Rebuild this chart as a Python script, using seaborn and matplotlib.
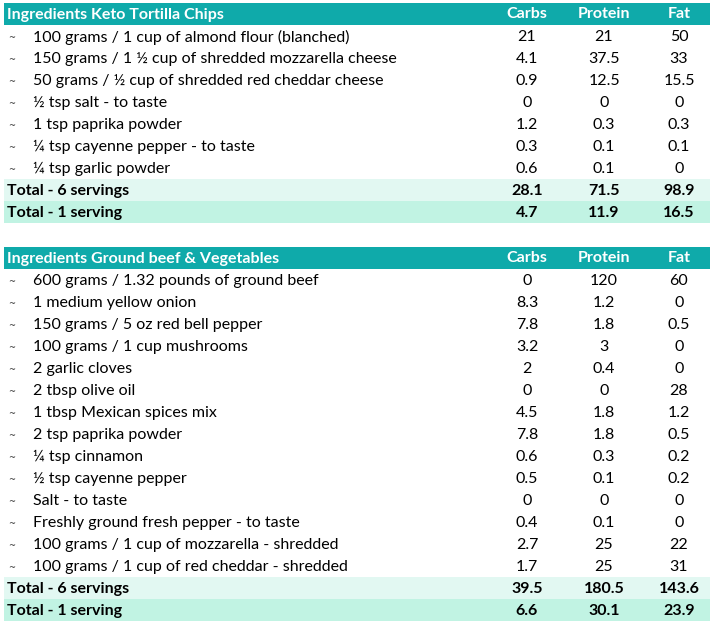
import matplotlib
matplotlib.use("Agg")
import matplotlib.pyplot as plt
import seaborn as sns

# ── data ─────────────────────────────────────────────────────────────────────
COLS = ["Carbs", "Protein", "Fat"]

t1_title = "Ingredients Keto Tortilla Chips"
t1_items = ["100 grams / 1 cup of almond flour (blanched)",
            "150 grams / 1 ½ cup of shredded mozzarella cheese",
            "50 grams / ½ cup of shredded red cheddar cheese",
            "½ tsp salt - to taste",
            "1 tsp paprika powder",
            "¼ tsp cayenne pepper - to taste",
            "¼ tsp garlic powder"]
t1_carbs   = [21, 4.1, 0.9, 0, 1.2, 0.3, 0.6]
t1_protein = [21, 37.5, 12.5, 0, 0.3, 0.1, 0.1]
t1_fat     = [50, 33, 15.5, 0, 0.3, 0.1, 0]
t1_total6  = [28.1, 71.5, 98.9]
t1_total1  = [4.7, 11.9, 16.5]

t2_title = "Ingredients Ground beef & Vegetables"
t2_items = ["600 grams / 1.32 pounds of ground beef",
            "1 medium yellow onion",
            "150 grams / 5 oz red bell pepper",
            "100 grams / 1 cup mushrooms",
            "2 garlic cloves",
            "2 tbsp olive oil",
            "1 tbsp Mexican spices mix",
            "2 tsp paprika powder",
            "¼ tsp cinnamon",
            "½ tsp cayenne pepper",
            "Salt - to taste",
            "Freshly ground fresh pepper - to taste",
            "100 grams / 1 cup of mozzarella - shredded",
            "100 grams / 1 cup of red cheddar - shredded"]
t2_carbs   = [0, 8.3, 7.8, 3.2, 2, 0, 4.5, 7.8, 0.6, 0.5, 0, 0.4, 2.7, 1.7]
t2_protein = [120, 1.2, 1.8, 3, 0.4, 0, 1.8, 1.8, 0.3, 0.1, 0, 0.1, 25, 25]
t2_fat     = [60, 0, 0.5, 0, 0, 28, 1.2, 0.5, 0.2, 0.2, 0, 0, 22, 31]
t2_total6  = [39.5, 180.5, 143.6]
t2_total1  = [6.6, 30.1, 23.9]

# ── style ────────────────────────────────────────────────────────────────────
TEAL   = "#0FAAAA"
TOT6   = "#E2F8F2"
TOT1   = "#C1F3E3"
sns.set_theme(style="white")
plt.rcParams["font.family"] = ["Lato", "DejaVu Sans"]
FS = 11.5
FSB = 11.5

ROW_H = 22
X0, X1 = 4, 710
COL_X = [527, 604, 679]

fig = plt.figure(figsize=(7.12, 6.26), dpi=100)
ax = fig.add_axes([0, 0, 1, 1])
ax.set_xlim(0, 712)
ax.set_ylim(626, 0)
ax.axis("off")


def draw_table(top, title, items, carbs, protein, fat, tot6, tot1):
    # header band
    ax.barh(top + ROW_H / 2, X1 - X0, height=ROW_H, left=X0,
            color=TEAL, linewidth=0)
    yc = top + ROW_H / 2 + 0.5
    ax.text(X0 + 3, yc, title, color="white", fontsize=FSB,
            fontweight="bold", va="center", ha="left")
    for cx, c in zip(COL_X, COLS):
        ax.text(cx, yc, c, color="white", fontsize=FSB, fontweight="bold",
                va="center", ha="center")
    # ingredient rows
    for i, name in enumerate(items):
        yc = top + ROW_H * (i + 1) + ROW_H / 2 + 1
        ax.text(12, yc + 1, "~", fontsize=6, va="center", ha="center",
                color="#333333", family="DejaVu Sans")
        ax.text(33, yc, name, fontsize=FS, va="center", ha="left",
                color="black")
        for cx, v in zip(COL_X, (carbs[i], protein[i], fat[i])):
            ax.text(cx, yc, f"{v:g}", fontsize=FS, va="center",
                    ha="center", color="black")
    # totals
    n = len(items)
    for k, (lab, vals, col) in enumerate(
            [("Total - 6 servings", tot6, TOT6),
             ("Total - 1 serving", tot1, TOT1)]):
        y0 = top + ROW_H * (n + 1 + k)
        yc = y0 + ROW_H / 2
        ax.barh(yc, X1 - X0, height=ROW_H, left=X0, color=col, linewidth=0)
        ax.text(X0 + 3, yc + 1, lab, fontsize=FSB, fontweight="bold",
                va="center", ha="left", color="black")
        for cx, v in zip(COL_X, vals):
            ax.text(cx, yc + 1, f"{v:g}", fontsize=FSB, fontweight="bold",
                    va="center", ha="center", color="black")


draw_table(3, t1_title, t1_items, t1_carbs, t1_protein, t1_fat,
           t1_total6, t1_total1)
draw_table(247, t2_title, t2_items, t2_carbs, t2_protein, t2_fat,
           t2_total6, t2_total1)

fig.savefig("out.png", dpi=100, facecolor="white")
plt.close(fig)
